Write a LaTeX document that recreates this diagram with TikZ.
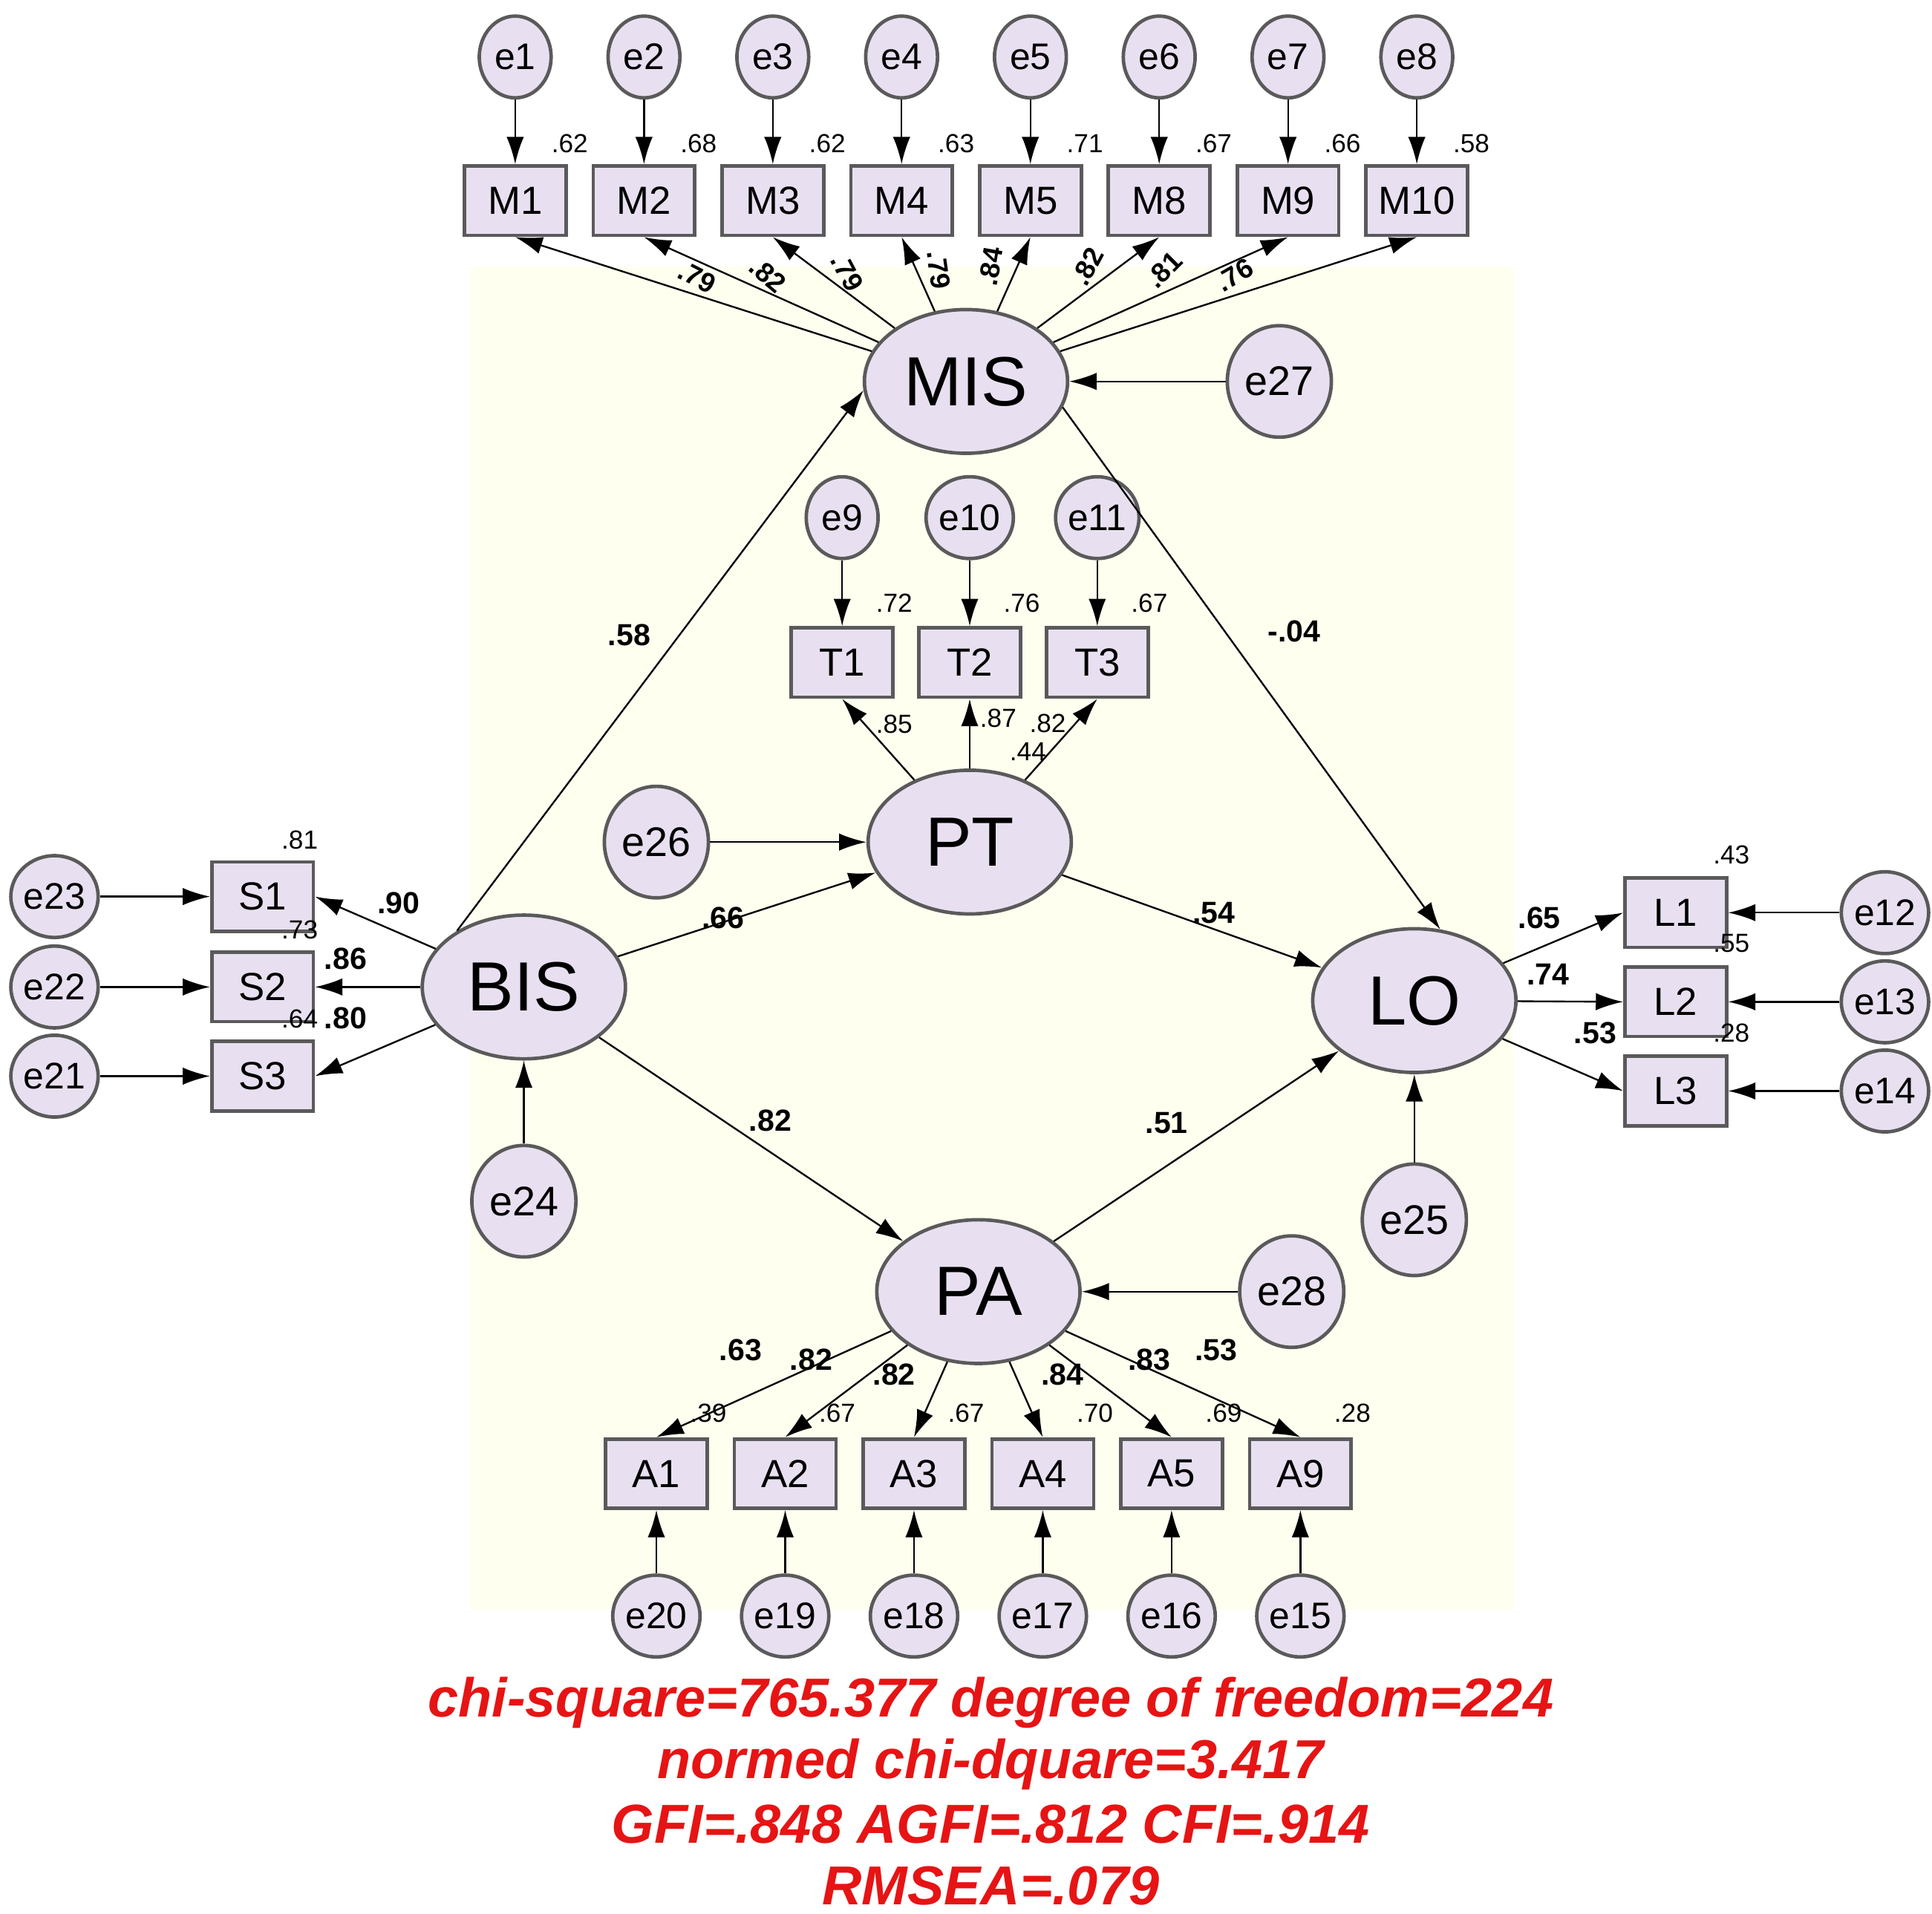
\documentclass[tikz,border=0pt]{standalone}
\usepackage{fontspec}
\setmainfont{Liberation Sans}
\usetikzlibrary{shapes.geometric,arrows.meta}
\definecolor{bgy}{RGB}{255,255,240}
\definecolor{lav}{RGB}{232,224,240}
\definecolor{bord}{RGB}{90,90,90}
\definecolor{redt}{RGB}{230,20,20}
\begin{document}
\begin{tikzpicture}[x=0.01cm,y=-0.01cm,
 err/.style={ellipse,draw=bord,thick,fill=lav,minimum width=0.58cm,minimum height=0.66cm,inner sep=0pt,font=\fontsize{8.5}{9}\selectfont},
 berr/.style={ellipse,draw=bord,thick,fill=lav,minimum width=0.84cm,minimum height=0.9cm,inner sep=0pt,font=\fontsize{9.5}{10}\selectfont},
 obs/.style={rectangle,draw=bord,thick,fill=lav,minimum width=0.82cm,minimum height=0.56cm,inner sep=0pt,font=\fontsize{9}{10}\selectfont},
 lat/.style={ellipse,draw=bord,thick,fill=lav,minimum width=1.64cm,minimum height=1.16cm,inner sep=0pt,font=\fontsize{16}{17}\selectfont},
 arr/.style={-{Latex[length=2.2mm,width=1.4mm]},thin},
 sm/.style={font=\fontsize{6}{7}\selectfont,inner sep=0pt},
 md/.style={font=\bfseries\fontsize{7}{8}\selectfont,inner sep=0pt},
 rl/.style={font=\bfseries\fontsize{6.3}{7}\selectfont,inner sep=0pt},
 red/.style={text=redt,font=\bfseries\itshape\fontsize{12.6}{14}\selectfont}]
\useasboundingbox (0,0) rectangle (1560,1545.6);
\fill[bgy] (380,215) rectangle (1222,1300);
% MIS block
\node[lat] (MIS) at (780,308) {MIS};
\node[berr] (e27) at (1033,308) {e27};
\draw[arr] (e27) -- (MIS);
\foreach \i/\n/\x/\r in {1/M1/416/.62,2/M2/520/.68,3/M3/624/.62,4/M4/728/.63,5/M5/832/.71,6/M8/936/.67,7/M9/1040/.66,8/M10/1144/.58}{
 \node[err] (e\i) at (\x,46) {e\i};
 \node[obs] (\n) at (\x,162) {\n};
 \node[sm] (r\n) at (\x+44,116) {\r};
 \draw[arr] (e\i) -- (\n);
 \draw[arr] (MIS) -- (\n.south);
}
\node[rl,rotate=-27] (lm2) at (563,224) {.79};
\node[rl,rotate=-40] (lm3) at (620,222) {.82};
\node[rl,rotate=-62] (lm4) at (684,220) {.79};
\node[rl,rotate=-82] (lm5) at (758,218) {.79};
\node[rl,rotate=80] (lm6) at (800,215) {.84};
\node[rl,rotate=62] (lm7) at (878,215) {.82};
\node[rl,rotate=45] (lm8) at (940,218) {.81};
\node[rl,rotate=30] (lm9) at (997,222) {.76};
% PT block
\node[lat] (PT) at (783,680) {PT};
\node[berr] (e26) at (530,680) {e26};
\draw[arr] (e26) -- (PT);
\foreach \i/\n/\x/\r in {9/T1/680/.72,10/T2/783/.76,11/T3/886/.67}{
 \node[err] (e\i) at (\x,418) {e\i};
 \node[obs] (\n) at (\x,535) {\n};
 \node[sm] (r\n) at (\x+42,487) {\r};
 \draw[arr] (e\i) -- (\n);
 \draw[arr] (PT) -- (\n.south);
}
\node[sm] (lt1) at (722,585) {.85};
\node[sm] (lt2) at (806,580) {.87};
\node[sm] (lt3) at (846,584) {.82};
\node[sm] (rpt) at (830,607) {.44};
% BIS block
\node[lat] (BIS) at (423,797) {BIS};
\node[berr] (e24) at (423,970) {e24};
\draw[arr] (e24) -- (BIS);
\foreach \i/\n/\y/\r in {23/S1/724/.81,22/S2/797/.73,21/S3/869/.64}{
 \node[err] (e\i) at (44,\y) {e\i};
 \node[obs] (\n) at (212,\y) {\n};
 \node[sm] (r\n) at (242,\y-46) {\r};
 \draw[arr] (e\i) -- (\n);
 \draw[arr] (BIS) -- (\n.east);
}
\node[md] (ls1) at (322,729) {.90};
\node[md] (ls2) at (279,774) {.86};
\node[md] (ls3) at (279,822) {.80};
% LO block
\node[lat] (LO) at (1142,808) {LO};
\node[berr] (e25) at (1142,985) {e25};
\draw[arr] (e25) -- (LO);
\foreach \i/\n/\y/\r in {12/L1/737/.43,13/L2/809/.55,14/L3/881/.28}{
 \node[err] (e\i) at (1522,\y) {e\i};
 \node[obs] (\n) at (1353,\y) {\n};
 \node[sm] (r\n) at (1398,\y-47) {\r};
 \draw[arr] (e\i) -- (\n);
 \draw[arr] (LO) -- (\n.west);
}
\node[md] (ll1) at (1243,741) {.65};
\node[md] (ll2) at (1250,787) {.74};
\node[md] (ll3) at (1288,834) {.53};
% PA block
\node[lat] (PA) at (790,1043) {PA};
\node[berr] (e28) at (1043,1043) {e28};
\draw[arr] (e28) -- (PA);
\foreach \i/\n/\x/\r in {20/A1/530/.39,19/A2/634/.67,18/A3/738/.67,17/A4/842/.70,16/A5/946/.69,15/A9/1050/.28}{
 \node[err] (e\i) at (\x,1305) {e\i};
 \node[obs] (\n) at (\x,1190) {\n};
 \node[sm] (r\n) at (\x+42,1141) {\r};
 \draw[arr] (e\i) -- (\n);
 \draw[arr] (PA) -- (\n.north);
}
\node[md] (la1) at (598,1090) {.63};
\node[md] (la2) at (655,1098) {.82};
\node[md] (la3) at (722,1110) {.82};
\node[md] (la4) at (858,1110) {.84};
\node[md] (la5) at (928,1098) {.83};
\node[md] (la6) at (982,1090) {.53};
% structural paths
\draw[arr] (BIS.140) -- (MIS.185);
\draw[arr] (BIS) -- (PT);
\draw[arr] (BIS) -- (PA);
\draw[arr] (MIS.345) -- (LO.70);
\draw[arr] (PT) -- (LO);
\draw[arr] (PA) -- (LO);
\node[md] (p1) at (508,513) {.58};
\node[md] (p2) at (584,741) {.66};
\node[md] (p3) at (622,905) {.82};
\node[md] (p4) at (1045,510) {-.04};
\node[md] (p5) at (980,737) {.54};
\node[md] (p6) at (942,907) {.51};
% fit text
\node[red] (f1) at (800,1375) {chi-square=765.377 degree of freedom=224};
\node[red] (f2) at (800,1425) {normed chi-dquare=3.417};
\node[red] (f3) at (800,1473) {GFI=.848 AGFI=.812 CFI=.914};
\node[red] (f4) at (800,1523) {RMSEA=.079};
\end{tikzpicture}
\end{document}
